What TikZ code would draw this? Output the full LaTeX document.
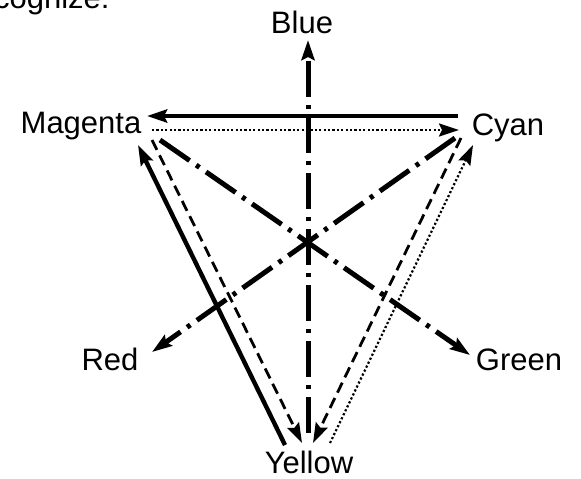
\documentclass[tikz,border=0pt]{standalone}
\usepackage{fontspec}
\setmainfont{Liberation Sans}
\usepackage{tikz}
\usetikzlibrary{arrows.meta,positioning}
\tikzset{
  lbl/.style={inner sep=0pt, anchor=base, font=\fontsize{15.5}{18}\selectfont},
  tipc/.style={-{Stealth[length=10pt, width=6.5pt, inset=1.5pt]}},
  arrsolid/.style={tipc, line width=2.2pt},
  arrdashed/.style={tipc, line width=1.4pt, dash pattern=on 5.5pt off 3pt},
  arrdotted/.style={tipc, line width=1.1pt, dash pattern=on 1.1pt off 1.1pt},
  arrchain/.style={tipc, line width=2.5pt, dash pattern=on 18pt off 4pt on 2pt off 4pt},
}

\begin{document}
\begin{tikzpicture}[x=0.5pt, y=-0.5pt]
\useasboundingbox (0,0) rectangle (581,478);
\node[lbl, anchor=base east] (prev) at (110,8) {recognize:};
\node[lbl] (blue) at (302,33) {Blue};
\node[lbl] (magenta) at (81,133) {Magenta};
\node[lbl] (cyan) at (508,135) {Cyan};
\node[lbl] (red) at (110,370) {Red};
\node[lbl] (green) at (519,370) {Green};
\node[lbl] (yellow) at (309,473) {Yellow};
% magenta <-> cyan
\draw[arrsolid] ([shift={(-50,-19)}]cyan.base) -- ([shift={(66,-17)}]magenta.base);
\draw[arrdotted] ([shift={(71,-3)}]magenta.base) -- ([shift={(-49,-5)}]cyan.base);
% chains
\draw[arrchain] ([shift={(-1,-40)}]yellow.base) -- ([shift={(6,7)}]blue.base);
\draw[arrchain] ([shift={(79,7)}]magenta.base) -- ([shift={(-49,-15)}]green.base);
\draw[arrchain] ([shift={(-53,3)}]cyan.base) -- ([shift={(42,-18)}]red.base);
% yellow
\draw[arrsolid] ([shift={(-24,-28)}]yellow.base) -- ([shift={(57,12)}]magenta.base);
\draw[arrdashed] ([shift={(71,7)}]magenta.base) -- ([shift={(-7,-30)}]yellow.base);
\draw[arrdashed] ([shift={(-47,3)}]cyan.base) -- ([shift={(4,-30)}]yellow.base);
\draw[arrdotted] ([shift={(21,-30)}]yellow.base) -- ([shift={(-35,10)}]cyan.base);
\end{tikzpicture}
\end{document}
